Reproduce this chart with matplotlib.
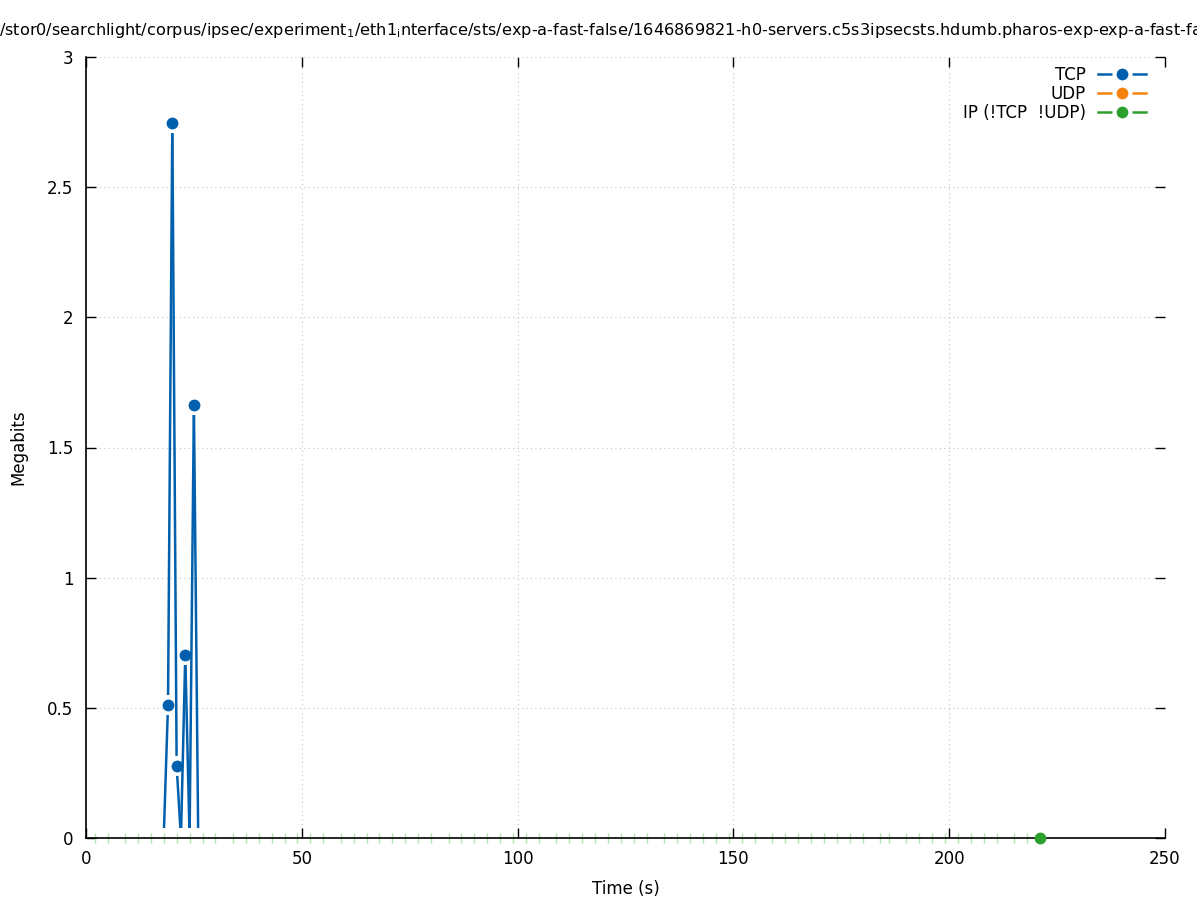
import numpy as np
import matplotlib
matplotlib.use("Agg")
import matplotlib.pyplot as plt
from matplotlib.lines import Line2D

plt.rcParams['font.family'] = ['DejaVu Sans']
plt.rcParams['mathtext.fontset'] = 'dejavusans'

# ---- data ----
tcp_times = [18, 19, 20, 21, 22, 23, 24, 25, 26]
tcp_values = [0.0, 0.511, 2.746, 0.277, 0.0, 0.703, 0.0, 1.663, 0.0]

udp_times = []
udp_values = []

ip_tick_times = [2, 5, 9, 12, 15, 18, 21, 24, 27, 30, 34, 37, 40, 43, 46, 49, 52, 55,
                 59, 62, 65, 68, 71, 74, 77, 80, 84, 87, 90, 93, 96, 99, 102, 105,
                 109, 112, 115, 118, 121, 124, 127, 130, 134, 137, 140, 143, 146, 149,
                 152, 155, 159, 162, 165, 168, 171, 174, 177, 180, 184, 186, 190, 193,
                 196, 199, 202, 205, 208, 211, 215, 218]
ip_times = [221]
ip_values = [0.0]

x_ticks = [0, 50, 100, 150, 200, 250]
y_ticks = [0, 0.5, 1, 1.5, 2, 2.5, 3]
y_tick_labels = ["0", "0.5", "1", "1.5", "2", "2.5", "3"]

series_names = ["TCP", "UDP", "IP (!TCP  !UDP)"]
c_tcp = "#0060ad"
c_udp = "#f5820f"
c_ip = "#2ca02c"

title = (r"/stor0/searchlight/corpus/ipsec/experiment$_{\mathregular{1}}$/eth1$_{\mathregular{i}}$nterface/sts/"
         r"exp-a-fast-false/1646869821-h0-servers.c5s3ipsecsts.hdumb.pharos-exp-exp-a-fast-false.pcap")

W, H = 1197, 900
fig = plt.figure(figsize=(W / 100, H / 100), dpi=100)
ax = fig.add_axes([86 / W, 1 - 838 / H, (1165 - 86) / W, (838 - 57) / H])
ax.set_xlim(0, 250)
ax.set_ylim(0, 3)

ax.set_xticks(x_ticks)
ax.set_xticklabels([str(v) for v in x_ticks])
ax.set_yticks(y_ticks)
ax.set_yticklabels(y_tick_labels)
ax.tick_params(direction='in', length=7, width=1, top=True, right=True,
               labelsize=12, pad=9)
for s in ['top', 'right']:
    ax.spines[s].set_visible(False)
for s in ['left', 'bottom']:
    ax.spines[s].set_linewidth(1.2)
    ax.spines[s].set_zorder(5)
ax.grid(True, color='#c4c4c4', linestyle=(0, (1, 3)), linewidth=0.8)
ax.set_axisbelow(True)

ax.set_xlabel("Time (s)", fontsize=12, labelpad=8)
ax.set_ylabel("Megabits", fontsize=12, labelpad=14)

# gnuplot-style linespoints with gaps around points
gap = 10.0  # pixels
def gapped_line(xs, ys, color, draw_points):
    trans = ax.transData
    inv = trans.inverted()
    pts = trans.transform(np.column_stack([xs, ys]))
    for i in range(len(pts) - 1):
        p0, p1 = pts[i], pts[i + 1]
        d = p1 - p0
        L = np.hypot(*d)
        if L <= 2 * gap:
            continue
        a = p0 + d / L * gap
        b = p1 - d / L * gap
        seg = inv.transform(np.array([a, b]))
        ax.plot(seg[:, 0], seg[:, 1], color=color, lw=1.8, solid_capstyle='butt', zorder=3)
    for xv, yv, show in zip(xs, ys, draw_points):
        if show:
            ax.plot([xv], [yv], 'o', color=color, ms=8.5, mew=0, zorder=4)

gapped_line(tcp_times, tcp_values, c_tcp, [v > 0 for v in tcp_values])

ax.plot(ip_tick_times, np.zeros(len(ip_tick_times)), linestyle='none', marker='|',
        ms=7, mew=1.0, color='#b3e0b3', zorder=4, clip_on=False)
ax.plot(ip_times, ip_values, 'o', color=c_ip, ms=8.5, mew=0, zorder=6, clip_on=False)

handles = [Line2D([0], [0], color=c, lw=1.8, marker='o', ms=11.5, mfc=c,
                  mec='white', mew=3) for c in (c_tcp, c_udp, c_ip)]
leg = ax.legend(handles, series_names, loc='upper right', markerfirst=False,
                bbox_to_anchor=(0.9856, 0.9924),
                frameon=True, fontsize=12, handlelength=2.9, handletextpad=0.7,
                borderaxespad=0.0, labelspacing=0.05, borderpad=0.2)
leg.get_frame().set_facecolor('white')
leg.get_frame().set_edgecolor('none')
leg.get_frame().set_alpha(1.0)
leg.get_frame().set_boxstyle('square', pad=0)
for t in leg.get_texts():
    t.set_ha('right')
leg._legend_box.align = 'right'

fig.text(-1 / W, 1 - 30 / H, title, ha='left', va='center', fontsize=11.6)

fig.savefig("out.png", dpi=100)
